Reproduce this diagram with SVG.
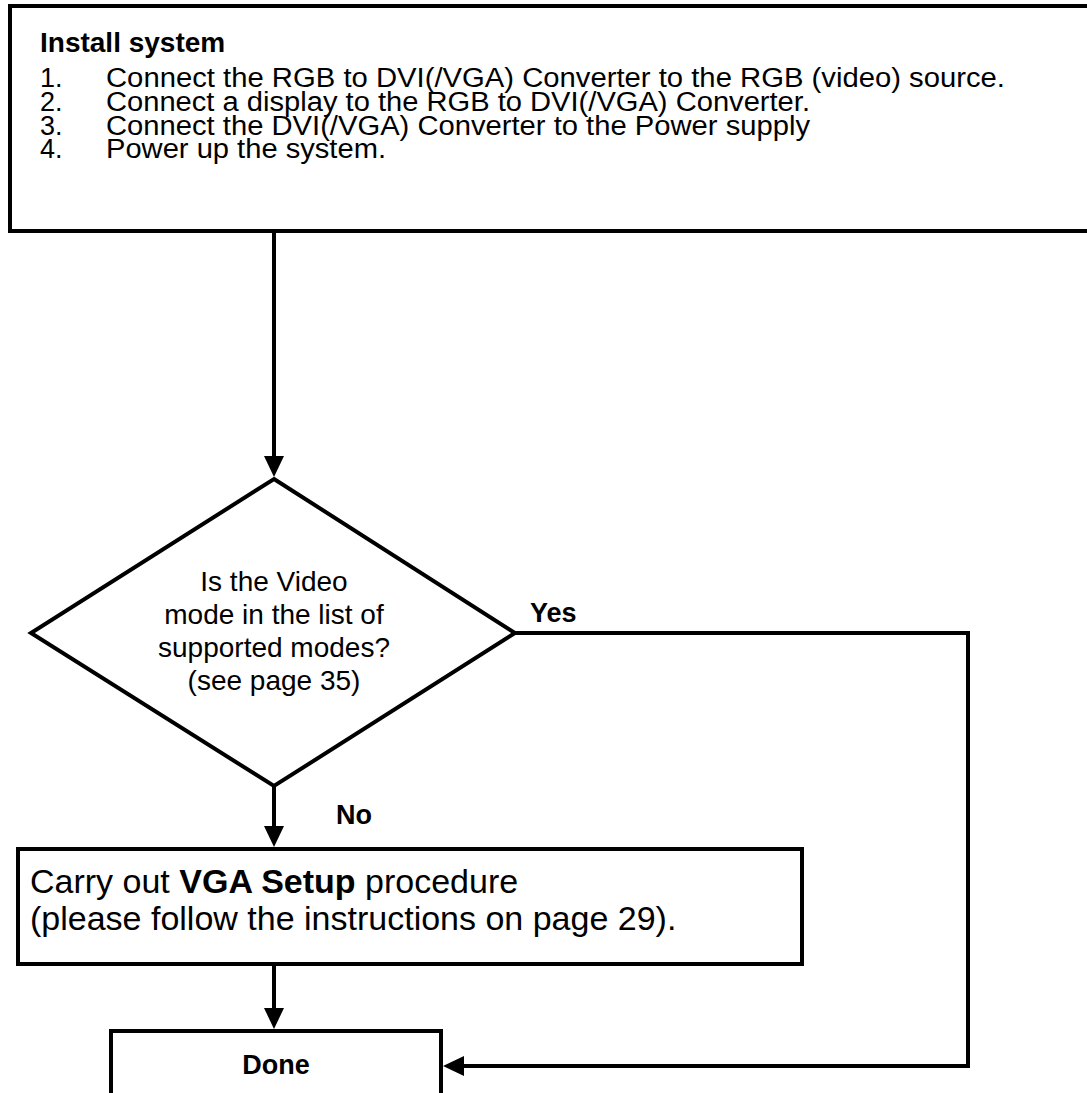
<svg xmlns="http://www.w3.org/2000/svg" width="1087" height="1093" viewBox="0 0 1087 1093">
<style>
.box{fill:#fff;stroke:#000;stroke-width:4}
.ln{stroke:#000;stroke-width:4;fill:none}
.ah{fill:#000}
text{font-family:"Liberation Sans",Arial,sans-serif;fill:#000}
.t{font-size:27px}
.b{font-weight:bold}
.d{font-size:28px;text-anchor:middle}
.v{font-size:34px}
.lbl{font-size:27px;font-weight:bold}
</style>
<rect width="1087" height="1093" fill="#fff"/>
<g id="install">
<rect class="box" x="10" y="6" width="1100" height="225"/>
<text class="b" x="40" y="52" font-size="28">Install system</text>
<text class="t" x="40" y="87">1.</text><text class="t" x="106" y="87" textLength="899" lengthAdjust="spacingAndGlyphs">Connect the RGB to DVI(/VGA) Converter to the RGB (video) source.</text>
<text class="t" x="40" y="111">2.</text><text class="t" x="106" y="111" textLength="704" lengthAdjust="spacingAndGlyphs">Connect a display to the RGB to DVI(/VGA) Converter.</text>
<text class="t" x="40" y="135">3.</text><text class="t" x="106" y="135" textLength="704" lengthAdjust="spacingAndGlyphs">Connect the DVI(/VGA) Converter to the Power supply</text>
<text class="t" x="40" y="158">4.</text><text class="t" x="106" y="158" textLength="280" lengthAdjust="spacingAndGlyphs">Power up the system.</text>
</g>
<g id="decision">
<polygon class="box" points="274,479 515,633 274,786 31,633"/>
<text class="d" x="274" y="591">Is the Video</text>
<text class="d" x="274" y="624">mode in the list of</text>
<text class="d" x="274" y="657">supported modes?</text>
<text class="d" x="274" y="690">(see page 35)</text>
</g>
<g id="vgasetup">
<rect class="box" x="18" y="849" width="784" height="115"/>
<text class="v" x="30" y="893">Carry out <tspan class="b">VGA Setup</tspan> procedure</text>
<text class="v" x="30" y="930">(please follow the instructions on page 29).</text>
</g>
<g id="done">
<path class="ln" d="M111,1093 V1031 H441 V1093"/>
<text class="lbl" x="276" y="1074" text-anchor="middle">Done</text>
</g>
<g id="connectors">
<line class="ln" x1="274" y1="233" x2="274" y2="458"/>
<polygon class="ah" points="264,456 284,456 274,477"/>
<line class="ln" x1="274" y1="786" x2="274" y2="828"/>
<polygon class="ah" points="264,826 284,826 274,847"/>
<line class="ln" x1="274" y1="964" x2="274" y2="1010"/>
<polygon class="ah" points="264,1008 284,1008 274,1029"/>
<polyline class="ln" points="515,633 968,633 968,1066 462,1066"/>
<polygon class="ah" points="464,1056 464,1076 443,1066"/>
<text class="lbl" x="530" y="622">Yes</text>
<text class="lbl" x="336" y="824">No</text>
</g>
</svg>
